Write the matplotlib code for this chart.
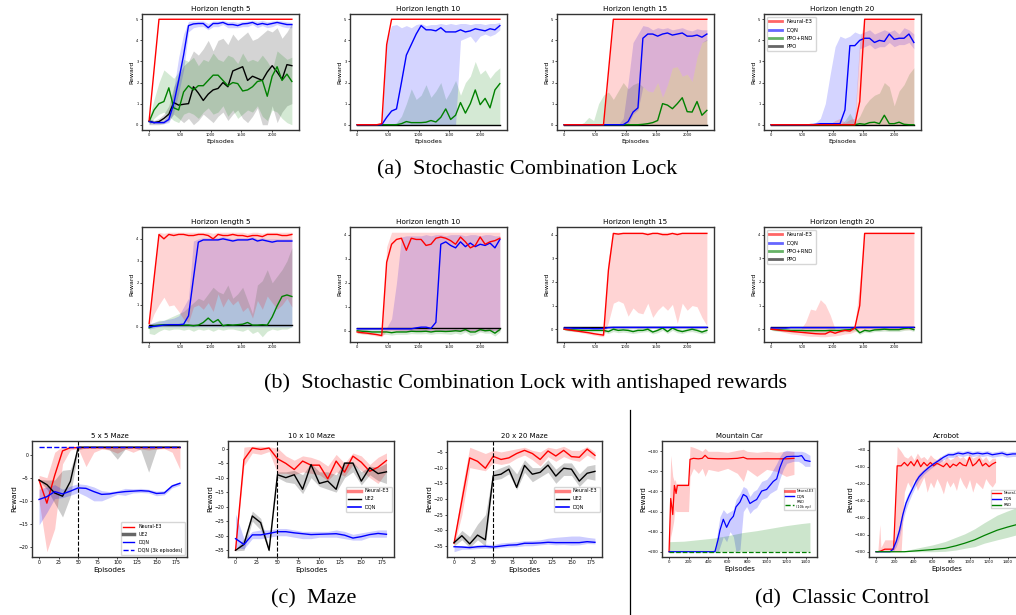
import matplotlib
matplotlib.use("Agg")
import matplotlib.pyplot as plt
from matplotlib.lines import Line2D

# ---------------- data ----------------
# combination lock: episodes sampled every 80
lock_ep = [0, 80, 160, 240, 320, 400, 480, 560, 640, 720, 800, 880, 960, 1040, 1120,
           1200, 1280, 1360, 1440, 1520, 1600, 1680, 1760, 1840, 1920, 2000, 2080, 2160, 2240, 2320]

# (a) horizon 5
h5_e3 = [0.2, 2.6] + [5.0] * 28
h5_dqn = [0.15, 0.1, 0.1, 0.1, 0.25, 1.0, 2.1, 3.3, 4.7, 4.78, 4.8, 4.8, 4.6, 4.8, 4.8,
          4.85, 4.75, 4.75, 4.7, 4.78, 4.8, 4.85, 4.75, 4.8, 4.75, 4.8, 4.85, 4.8, 4.75, 4.75]
h5_dqn_lo = [0.05, 0.05, 0.05, 0.05, 0.1, 0.6, 1.5, 2.6, 4.4, 4.6, 4.65, 4.65, 4.5, 4.65, 4.65,
             4.75, 4.6, 4.6, 4.6, 4.65, 4.65, 4.75, 4.6, 4.7, 4.6, 4.65, 4.75, 4.65, 4.6, 4.6]
h5_dqn_hi = [0.25, 0.2, 0.2, 0.2, 0.6, 1.7, 3.2, 4.3, 4.9, 4.92, 4.92, 4.92, 4.8, 4.92, 4.92,
             4.95, 4.88, 4.9, 4.85, 4.9, 4.92, 4.95, 4.9, 4.95, 4.88, 4.92, 4.95, 4.92, 4.88, 4.85]
h5_rnd = [0.15, 0.7, 1.0, 1.1, 1.75, 0.8, 0.7, 1.55, 1.85, 1.65, 1.85, 1.85, 2.1, 2.35, 2.35,
          2.1, 1.85, 2.0, 1.95, 1.6, 1.65, 1.8, 2.05, 2.1, 1.35, 2.3, 2.75, 2.1, 2.4, 2.05]
h5_rnd_lo = [0.0, 0.3, 0.5, 0.6, 0.4, 0.2, 0.1, 0.5, 0.6, 0.5, 0.3, 0.6, 0.8, 0.5, 0.6,
             0.9, 0.4, 0.7, 0.3, 0.5, 0.7, 0.6, 0.9, 0.4, 0.2, 0.7, 0.6, 0.3, 0.1, 0.0]
h5_rnd_hi = [0.3, 1.2, 2.0, 2.6, 2.4, 2.2, 2.5, 3.1, 3.0, 3.2, 2.8, 3.1, 3.0, 3.4, 3.1,
             3.0, 3.3, 3.2, 2.9, 3.4, 3.0, 3.1, 3.0, 3.3, 3.0, 2.6, 3.5, 3.3, 3.1, 3.2]
h5_ppo = [0.17, 0.1, 0.15, 0.3, 0.5, 1.05, 0.93, 0.97, 1.0, 1.8, 1.5, 1.15, 1.45, 1.65, 1.72,
          2.0, 1.8, 2.55, 2.65, 2.75, 2.1, 2.3, 2.2, 2.1, 2.5, 2.8, 2.5, 2.15, 2.85, 2.8]
h5_ppo_lo = [0.0, 0.0, 0.0, 0.05, 0.2, 0.5, 0.3, 0.1, 0.3, 0.0, 0.2, 0.5, 0.3, 0.1, 0.4,
             0.6, 0.2, 0.5, 0.7, 0.3, 0.1, 0.4, 0.8, 0.0, 0.0, 0.9, 0.1, 0.6, 0.9, 1.0]
h5_ppo_hi = [0.3, 0.2, 0.3, 0.5, 0.9, 1.8, 2.3, 2.8, 3.0, 3.5, 3.3, 3.6, 4.0, 3.5, 4.0,
             4.1, 3.8, 4.3, 4.0, 4.2, 4.4, 4.0, 4.1, 4.3, 4.5, 4.4, 4.6, 4.1, 4.4, 4.8]

# (a) horizon 10
h10_e3 = [0.0] * 5 + [0.05, 3.8] + [5.0] * 23
h10_dqn = [0.0] * 6 + [0.35, 0.65, 0.75, 2.0, 3.3, 3.8, 4.3, 4.7, 4.5, 4.5, 4.45, 4.6, 4.4, 4.4,
                       4.4, 4.5, 4.4, 4.45, 4.55, 4.5, 4.45, 4.55, 4.5, 4.7]
h10_dqn_lo = [0.0] * 21 + [4.0, 4.1, 4.2, 3.9, 4.2, 4.3, 4.2, 4.3, 4.5]
h10_dqn_hi = [0.0] * 6 + [4.0, 4.7, 4.75, 4.6, 4.7, 4.6, 4.75, 4.8, 4.7, 4.75, 4.75, 4.8, 4.75,
                          4.8, 4.75, 4.8, 4.8, 4.75, 4.8, 4.8, 4.75, 4.8, 4.8, 4.85]
h10_rnd = [0.0] * 9 + [0.05, 0.15, 0.1, 0.1, 0.1, 0.12, 0.2, 0.13, 0.35, 0.75, 0.25, 0.45,
                       1.05, 0.55, 1.0, 1.65, 0.95, 1.25, 0.8, 1.65, 1.95]
h10_rnd_lo = [0.0] * 30
h10_rnd_hi = [0.0] * 8 + [0.1, 0.4, 1.0, 1.7, 1.2, 1.4, 1.9, 1.3, 1.6, 2.0, 1.2, 1.6, 2.1, 1.4,
                          2.0, 2.3, 3.0, 2.4, 2.6, 2.2, 2.5, 2.7]
h10_ppo = [0.0] * 30

# (a) horizon 15
h15_e3 = [0.0] * 9 + [2.5] + [5.0] * 20
h15_e3_lo = [0.0] * 30
h15_e3_hi = [0.0] * 9 + [2.5] + [5.0] * 20
h15_dqn = [0.0] * 13 + [0.15, 0.6, 0.8, 4.1, 4.3, 4.3, 4.2, 4.3, 4.35, 4.25, 4.3, 4.35, 4.2,
                        4.2, 4.25, 4.15, 4.3]
h15_dqn_lo = [0.0] * 13 + [0.0, 0.5, 0.7, 1.8, 1.6, 1.55, 2.0, 1.3, 1.9, 2.7, 2.75, 2.3, 2.4,
                           2.05, 3.2, 3.9, 4.0]
h15_dqn_hi = [0.0] * 12 + [0.3, 2.0, 3.9, 4.3, 4.7, 4.65, 4.5, 4.6, 4.55, 4.6, 4.5, 4.55,
                           4.6, 4.5, 4.45, 4.55, 4.5, 4.5]
h15_rnd = [0.0] * 16 + [0.02, 0.05, 0.1, 0.2, 1.0, 0.93, 0.76, 1.0, 1.28, 0.62, 0.6, 1.1, 0.45, 0.68]
h15_rnd_lo = [0.0] * 30
h15_rnd_hi = [0.0, 0.0, 0.0, 0.0, 0.1, 0.35, 0.2, 1.0, 1.4, 1.55, 1.2, 1.6, 2.0, 1.7, 1.9,
              2.0, 1.8, 1.6, 1.55, 2.0, 1.3, 1.9, 2.7, 2.75, 2.3, 2.4, 2.05, 3.2, 3.9, 4.05]
h15_ppo = [0.0] * 30

# (a) horizon 20
h20_e3 = [0.0] * 18 + [1.1] + [5.0] * 11
h20_e3_lo = [0.0] * 30
h20_e3_hi = [0.0] * 8 + [0.1, 0.0, 0.0, 0.0, 0.05, 0.2, 0.3, 0.1, 0.25, 0.3, 4.0] + [5.0] * 11
h20_dqn = [0.0] * 9 + [0.02, 0.05, 0.05, 0.05, 0.05, 0.05, 0.7, 3.75, 3.75, 4.0, 4.1, 4.1, 3.9,
                       4.0, 3.95, 4.3, 4.05, 4.1, 4.1, 4.3, 3.9]
h20_dqn_lo = [0.0] * 18 + [3.6, 3.7, 3.8, 3.6, 3.7, 3.7, 3.9, 3.7, 3.8, 3.8, 3.9, 3.6]
h20_dqn_hi = [0.0] * 9 + [0.1, 0.3, 1.0, 2.4, 3.7, 4.2, 4.1, 4.2, 4.4, 4.3, 4.4, 4.5, 4.3, 4.4,
                          4.5, 4.4, 4.5, 4.3, 4.6, 4.5, 4.3]
h20_rnd = [0.0] * 18 + [0.05, 0.02, 0.1, 0.12, 0.05, 0.45, 0.05, 0.05, 0.12, 0.02, 0.0, 0.0]
h20_rnd_lo = [0.0] * 30
h20_rnd_hi = [0.0] * 15 + [0.2, 0.55, 0.1, 0.4, 0.9, 1.2, 1.4, 1.5, 2.0, 1.8, 0.9, 1.6, 1.9, 2.4, 2.7]
h20_ppo = [0.0] * 30

# (b) antishaped, horizon 5
s5_e3 = [0.15, 2.2, 4.2, 4.0, 4.2, 4.15, 4.2, 4.2, 4.15, 4.15, 4.2, 4.2, 4.15, 4.0, 4.2,
         4.15, 4.15, 4.2, 4.15, 4.15, 4.1, 4.15, 4.15, 4.1, 4.2, 4.2, 4.2, 4.15, 4.15, 4.2]
s5_e3_lo = [0.0, 0.6, 1.0, 1.35, 0.95, 1.0, 0.7, 0.35, 0.2, 0.9, 1.0, 0.8, 1.1, 0.7, 1.5,
            0.9, 1.3, 1.0, 1.2, 0.7, 0.9, 0.4, 1.2, 0.8, 1.4, 1.1, 0.8, 1.0, 1.3, 0.9]
s5_e3_hi = [0.3, 2.5, 4.3, 4.25, 4.3, 4.3, 4.3, 4.3, 4.3, 4.3, 4.3, 4.3, 4.3, 4.25, 4.3,
            4.3, 4.3, 4.3, 4.3, 4.3, 4.25, 4.3, 4.3, 4.25, 4.3, 4.3, 4.3, 4.3, 4.3, 4.3]
s5_dqn = [0.0, 0.02, 0.05, 0.08, 0.1, 0.1, 0.1, 0.12, 0.5, 2.2, 3.85, 3.95, 3.95, 3.95, 3.95,
          4.0, 3.95, 3.9, 3.95, 3.95, 3.95, 4.0, 3.9, 3.95, 3.9, 3.85, 3.9, 3.9, 3.9, 3.9]
s5_dqn_lo = [-0.1, -0.05] + [0.0] * 28
s5_dqn_hi = [0.15, 0.2, 0.25, 0.3, 0.35, 0.4, 0.5, 0.9, 1.3, 3.9, 4.0, 4.05, 4.05, 4.05, 4.05,
             4.1, 4.05, 4.0, 4.05, 4.05, 4.05, 4.1, 4.0, 4.05, 4.0, 4.0, 4.0, 4.0, 4.0, 4.0]
s5_rnd = [-0.05, 0.05, 0.08, 0.1, 0.1, 0.1, 0.1, 0.08, 0.08, 0.05, 0.08, 0.2, 0.4, 0.2, 0.33,
          0.05, 0.1, 0.08, 0.1, 0.12, 0.2, 0.08, 0.08, 0.1, 0.08, 0.45, 0.95, 1.38, 1.45, 1.38]
s5_rnd_lo = [-0.3, -0.35, -0.2, -0.1, -0.15, -0.1, -0.1, -0.15, -0.1, -0.2, -0.1, -0.15, -0.1,
             -0.2, -0.1, -0.15, -0.1, -0.1, -0.15, -0.2, -0.1, -0.3, -0.2, -0.45, -0.2, -0.1,
             -0.15, -0.1, -0.1, 0.0]
s5_rnd_hi = [0.1, 0.2, 0.3, 0.3, 0.4, 0.5, 0.6, 0.7, 0.9, 1.1, 1.3, 1.2, 1.5, 1.8, 1.6,
             1.5, 1.9, 1.3, 1.5, 1.8, 1.2, 0.6, 1.9, 2.1, 2.6, 2.0, 2.3, 2.6, 3.0, 3.6]
s5_ppo = [0.1] * 30

# (b) antishaped, horizon 10
s10_e3 = [-0.05, -0.08, -0.1, -0.13, -0.16, -0.2, 2.85, 3.6, 3.8, 3.85, 3.35, 3.85, 3.8, 3.8,
          3.55, 3.6, 3.85, 3.9, 3.85, 3.75, 3.6, 3.9, 3.7, 3.45, 3.55, 3.9, 3.6, 3.7, 3.75, 3.85]
s10_e3_lo = [-0.1, -0.13, -0.15, -0.18, -0.22, -0.25] + [0.0] * 24
s10_e3_hi = [0.0, -0.03, -0.05, -0.08, -0.1, -0.15, 3.5] + [4.1] * 23
s10_dqn = [0.08] * 12 + [0.12, 0.15, 0.15, 0.1, 0.35, 3.6, 3.7, 3.55, 3.45, 3.7, 3.5, 3.65, 3.5,
                         3.6, 3.55, 3.65, 3.45, 3.8]
s10_dqn_lo = [0.03] * 9 + [0.0] * 21
s10_dqn_hi = [0.13] * 7 + [0.5, 2.0, 3.9, 3.95, 3.95, 3.95, 3.95, 4.0, 3.95, 4.0, 4.0, 3.95, 4.0,
                           4.0, 4.0, 3.95, 4.0, 4.0, 3.95, 4.0, 4.0, 3.95, 3.95]
s10_rnd = [0.0, -0.02, -0.03, -0.05, -0.05, -0.05, -0.05, -0.08, -0.05, -0.05, -0.05, -0.02,
           -0.03, -0.03, -0.02, -0.05, -0.02, -0.02, -0.03, -0.02, 0.0, -0.02, 0.05, -0.05,
           -0.05, 0.05, 0.0, 0.02, -0.1, 0.05]
s10_rnd_lo = [-0.1, -0.12, -0.13, -0.15, -0.15, -0.15, -0.15, -0.18, -0.15, -0.15, -0.15, -0.12,
              -0.13, -0.13, -0.12, -0.15, -0.12, -0.12, -0.13, -0.15, -0.1, -0.15, -0.05, -0.2,
              -0.15, -0.05, -0.1, -0.1, -0.22, -0.05]
s10_rnd_hi = [0.05, 0.05, 0.05, 0.03, 0.03, 0.03, 0.03, 0.02, 0.03, 0.03, 0.03, 0.05, 0.05, 0.05,
              0.05, 0.03, 0.05, 0.05, 0.05, 0.05, 0.08, 0.05, 0.12, 0.05, 0.05, 0.12, 0.08, 0.1,
              0.02, 0.12]
s10_ppo = [0.1] * 30

# (b) antishaped, horizon 15
s15_e3 = [0.0, -0.03, -0.06, -0.09, -0.12, -0.15, -0.19, -0.22, -0.25, 2.5, 4.05, 4.02, 4.05,
          4.05, 4.05, 4.05, 4.05, 4.0, 4.05, 4.05, 4.0, 4.0, 4.05, 4.0, 4.05, 4.05, 4.05, 4.05,
          4.05, 4.05]
s15_e3_lo = [-0.02, -0.06, -0.1, -0.13, -0.17, -0.21, -0.25, -0.29, -0.32, 0.3, 1.1, 1.2, 1.1,
             0.55, 0.9, 0.7, 0.65, 1.1, 0.5, 0.8, 1.0, 0.8, 1.05, 0.25, 1.1, 0.8, 1.0, 0.95,
             0.5, 0.15]
s15_e3_hi = [0.02, 0.0, -0.02, -0.05, -0.08, -0.1, -0.13, -0.16, -0.15, 3.0] + [4.1] * 20
s15_dqn = [0.05, 0.05, 0.04, 0.04, 0.03, 0.03, 0.02, 0.02, 0.03, 0.07] + [0.08] * 20
s15_dqn_lo = [0.01] * 30
s15_dqn_hi = [0.1] * 30
s15_rnd = [0.0, -0.02, -0.03, -0.04, -0.05, -0.05, -0.05, -0.05, -0.05, -0.1, 0.0, -0.05, -0.03,
           -0.05, -0.1, -0.05, -0.05, 0.0, -0.12, -0.05, 0.05, -0.1, 0.05, -0.05, -0.1, -0.05,
           0.0, -0.05, -0.12, -0.05]
s15_rnd_lo = [-0.05, -0.08, -0.1, -0.1, -0.12, -0.12, -0.12, -0.12, -0.12, -0.18, -0.1, -0.15,
              -0.12, -0.15, -0.18, -0.15, -0.12, -0.1, -0.2, -0.15, -0.05, -0.18, -0.05, -0.15,
              -0.18, -0.12, -0.1, -0.15, -0.2, -0.15]
s15_rnd_hi = [0.05, 0.04, 0.03, 0.02, 0.02, 0.02, 0.02, 0.02, 0.02, 0.0, 0.08, 0.03, 0.05, 0.03,
              0.0, 0.04, 0.04, 0.08, -0.04, 0.04, 0.12, 0.0, 0.12, 0.04, 0.0, 0.04, 0.08, 0.04,
              -0.04, 0.04]
s15_ppo = [0.1] * 30

# (b) antishaped, horizon 20
s20_e3 = [0.0, -0.02, -0.05, -0.07, -0.09, -0.11, -0.13, -0.15, -0.17, -0.19, -0.2, -0.2, -0.1,
          -0.17, -0.1, -0.05, -0.08, 0.05, 1.0] + [4.05] * 11
s20_e3_lo = [-0.02, -0.05, -0.1, -0.15, -0.2, -0.22, -0.25, -0.28, -0.3, -0.3, -0.32, -0.32, -0.3,
             -0.28, -0.25, -0.2, -0.18, -0.1, -0.05] + [-0.02] * 11
s20_e3_hi = [0.02, 0.02, 0.0, 0.0, 0.0, 0.0, 0.0, 0.3, 0.85, 0.8, 1.25, 1.05, 0.6, 0.0, 0.0, 0.0,
             0.0, 0.15, 2.0] + [4.1] * 11
s20_dqn = [0.05] * 4 + [0.07] * 14 + [0.08] * 12
s20_dqn_lo = [0.01] * 30
s20_dqn_hi = [0.1] * 30
s20_rnd = [0.0, -0.02, -0.03, -0.04, -0.05, -0.05, -0.05, -0.06, -0.06, -0.06, -0.06, -0.06,
           -0.05, -0.05, -0.05, -0.03, -0.02, 0.05, -0.15, -0.05, -0.08, -0.03, -0.02, 0.0,
           -0.02, -0.02, -0.02, 0.03, 0.05, -0.02]
s20_rnd_lo = [-0.05, -0.08, -0.1, -0.1, -0.12, -0.12, -0.12, -0.13, -0.13, -0.13, -0.13, -0.13,
              -0.12, -0.12, -0.12, -0.1, -0.1, -0.05, -0.22, -0.12, -0.15, -0.1, -0.1, -0.08,
              -0.1, -0.1, -0.1, -0.05, -0.03, -0.1]
s20_rnd_hi = [0.04, 0.03, 0.02, 0.01, 0.0, 0.0, 0.0, 0.0, 0.0, 0.0, 0.0, 0.0, 0.0, 0.0, 0.0,
              0.02, 0.04, 0.1, -0.08, 0.02, 0.0, 0.04, 0.05, 0.08, 0.05, 0.05, 0.05, 0.1, 0.12, 0.05]
s20_ppo = [0.1] * 30

# (c) mazes
maze_ep = [0, 10, 20, 30, 40, 50, 60, 70, 80, 90, 100, 110, 120, 130, 140, 150, 160, 170, 180]
maze_switch = 50

m5_e3 = [-5.5, -10.5, -4.5, 0.8] + [1.5] * 15
m5_e3_lo = [-10, -21, -16, -2, 1.0, 1.3, -2.6, 0.5, 1.2, 1.0, 0.3, 1.2, 0.5, 1.2, 1.0, 1.2, 1.3, 0.5, -3.2]
m5_e3_hi = [-4.5, -5.0, 0.5] + [1.8] * 16
m5_ue2 = [-5.5, -6.5, -8.3, -9.0, -5.8] + [1.6] * 14
m5_ue2_lo = [-5.6, -7.5, -10.5, -13.5, -9.0, 1.0, 1.5, 1.5, 1.5, 1.0, -1.0, 1.2, 1.5, 1.0, -3.8,
             1.2, 1.5, 1.5, 1.5]
m5_ue2_hi = [-5.4, -5.5, -5.5, -3.4, -3.2] + [1.8] * 14
m5_dqn = [-9.7, -9.1, -8.0, -8.5, -7.9, -7.2, -7.3, -8.0, -8.6, -8.5, -8.2, -8.0, -7.9, -7.8,
          -7.9, -8.4, -8.3, -6.8, -6.2]
m5_dqn_lo = [-15.2, -12.5, -9.5, -9.3, -8.8, -8.2, -9.0, -10.0, -10.0, -9.3, -8.6, -8.8, -8.3,
             -8.2, -8.3, -8.9, -8.7, -7.2, -6.6]
m5_dqn_hi = [-7.5, -7.0, -6.5, -7.5, -6.8, -6.3, -6.5, -7.0, -7.8, -8.0, -7.8, -7.3, -7.4, -7.3,
             -7.5, -7.9, -7.8, -6.4, -5.9]
m5_dqn3k = [1.7] * 19

m10_e3 = [-35, -3.8, 0.2, -0.3, 0.2, -3.5, -5.1, -7.2, -4.3, -5.7, -5.7, -10.4, -4.3, -8.1, -2.6,
          -4.7, -7.8, -6.4, -4.1]
m10_e3_lo = [-35, -6, -1.5, -2, -1, -8.5, -8.5, -9, -8, -8.5, -9, -11, -8, -9.5, -5.5, -7.5, -10,
             -12, -8]
m10_e3_hi = [-35, 0.5, 0.8, 0.8, 0.6, 0.2, -2.5, -4.0, -2.5, -3.0, -4.0, -6.0, -2.0, -5.0, -1.5,
             -2.5, -5.5, -3.0, -1.5]
m10_ue2 = [-35, -33, -23.2, -25.5, -35, -9.0, -10.0, -9.0, -14.0, -5.5, -12.0, -11.2, -14.0, -5.0,
           -5.0, -11.2, -6.6, -8.6, -8.0]
m10_ue2_lo = [-35.2, -35, -25, -28, -35.5, -10, -11.5, -12, -15.5, -10, -13, -14, -15, -10, -8,
              -12.5, -9, -11, -12]
m10_ue2_hi = [-34.8, -31, -21.5, -24, -34, -8, -8, -7.5, -9, -5, -8, -8, -9, -4.5, -4.5, -8, -6,
              -6.5, -5]
m10_dqn = [-31, -33, -29.7, -29.7, -29.2, -28.6, -28.6, -29.0, -29.3, -29.6, -29.5, -29.4, -29.3,
           -29.8, -30.8, -30.3, -29.6, -29.2, -29.5]
m10_dqn_lo = [-34, -34.5, -31, -31, -30.5, -30, -30, -30.5, -31, -31, -30.5, -30.5, -30.5, -31,
              -31.5, -31.5, -30.5, -30.5, -30.5]
m10_dqn_hi = [-22.5, -31, -28.5, -28, -28, -27.5, -27.5, -28, -28.5, -28.5, -28.5, -28.5, -28,
              -28.5, -29.5, -29, -28.5, -28, -28]

m20_e3 = [-34.1, -20.5, -6.9, -8.0, -10.2, -6.4, -7.4, -6.9, -5.5, -4.5, -5.5, -7.4, -4.7, -6.3,
          -4.5, -6.5, -6.7, -4.1, -6.1]
m20_e3_lo = [-35, -25, -10, -10.5, -11, -8.5, -9, -8.5, -7, -6, -7.5, -9.5, -6.5, -8, -6.5, -7.5,
             -8, -6, -7.5]
m20_e3_hi = [-33, -17, -3.5, -4.5, -5.5, -4.5, -5.0, -4.5, -4, -3.5, -4.5, -5, -3.5, -4, -3.2,
             -4.5, -4.5, -3.3, -5]
m20_ue2 = [-33.9, -31.7, -34.3, -31.5, -33.0, -12.6, -12.1, -10.5, -16.3, -9.3, -12.1, -11.5, -9.2,
           -12.7, -10.2, -10.5, -14.3, -11.8, -11.2]
m20_ue2_lo = [-35, -33, -35.5, -33, -35, -14, -13.5, -12, -17, -11.5, -14.5, -13, -11.5, -15,
              -12.5, -12.5, -16, -13.5, -14]
m20_ue2_hi = [-33, -30, -32, -28, -25, -11, -10, -9, -12, -7.5, -10, -10, -7.5, -10.5, -8.5, -8.5,
              -12, -9.5, -9]
m20_dqn = [-35.2, -35.3, -35.5, -35.2, -35.1, -35.3, -35.0, -34.7, -34.6, -34.1, -34.1, -34.0,
           -33.8, -33.9, -33.9, -33.9, -33.9, -33.6, -33.8]
m20_dqn_lo = [-36.8, -36, -36, -35.8, -35.7, -35.8, -35.5, -35.3, -35.2, -34.9, -34.9, -34.6,
              -34.4, -34.6, -34.5, -34.7, -34.6, -34.2, -34.3]
m20_dqn_hi = [-35, -34.8, -34.9, -34.6, -34.4, -34.5, -34, -33.8, -33.6, -33.3, -33.2, -33.0,
              -32.5, -32.2, -32.0, -31.8, -31.8, -32.2, -32.5]

# (d) mountain car
mc_e3_x = [0, 8, 17, 28, 38, 47, 55, 64, 72, 85, 200, 215, 250, 300, 340, 369, 400, 500, 600,
           700, 761, 800, 900, 1000, 1100, 1200, 1280]
mc_e3 = [-200, -175, -147, -155, -163, -148, -134, -138, -142, -134, -134, -108, -107, -107.5,
         -107, -104, -107, -107.5, -107.5, -107, -106, -107.5, -107.5, -107.5, -107.5, -107.5, -107]
mc_e3_hi = [-200, -140, -104, -115, -125, -128, -130, -128, -132, -132, -132, -95, -96, -98, -100,
            -97, -100, -100, -101, -99, -98, -100, -101, -100, -101, -100, -100]
mc_e3_lo = [-200, -200, -185, -180, -175, -170, -162, -158, -160, -160, -160, -125, -117, -122,
            -117, -125, -118, -120, -117, -122, -130, -118, -125, -118, -120, -125, -123]
mc_dqn_x = [0, 100, 200, 300, 400, 470, 505, 522, 556, 590, 625, 659, 686, 727, 761, 795, 829,
            864, 898, 949, 1000, 1034, 1068, 1103, 1137, 1171, 1205, 1273, 1325, 1359, 1393, 1444]
mc_dqn = [-200, -200, -200, -200, -200, -200, -187, -178.5, -167.7, -175.7, -168.6, -164.7, -155.4,
          -150.5, -143, -145, -152, -149.8, -148, -139.6, -138, -134, -130, -127.5, -116, -107.6,
          -105.3, -105, -105, -104.3, -109, -110]
mc_dqn_hi = [-200, -200, -200, -200, -200, -198, -175, -165, -158, -162, -160, -158, -148, -142,
             -135, -137, -145, -140, -138, -130, -128, -124, -118, -112, -105, -100, -99, -100,
             -100, -100, -101, -104]
mc_dqn_lo = [-200, -200, -200, -200, -200, -200, -200, -195, -185, -190, -180, -185, -200, -198,
             -160, -155, -162, -158, -156, -148, -146, -142, -140, -138, -127, -118, -112, -110,
             -110, -112, -115, -115]
mc_rnd_x = [0, 150, 300, 450, 600, 750, 900, 1050, 1200, 1350, 1444]
mc_rnd = [-200, -200, -200, -200, -200, -200, -200, -200, -200, -200, -200]
mc_rnd_hi = [-190, -189.5, -188, -186.5, -184, -181, -179, -176.5, -174, -172, -171]

# (d) acrobot
ac_e3_x = [0, 20, 40, 52, 94, 187, 225, 267, 301, 336, 371, 405, 440, 475, 509, 544, 579, 613,
           648, 683, 717, 752, 787, 821, 856, 891, 925, 960, 995, 1029, 1064, 1099, 1133, 1168,
           1203, 1237, 1272]
ac_e3 = [-200, -200, -199.5, -199, -197, -197, -99, -99, -95, -99, -94, -99, -92, -100, -95, -99,
         -95, -99, -96, -98, -100, -96, -101, -97, -99, -95, -98, -99, -89, -99, -96, -91, -99,
         -96, -100, -97, -95]
ac_e3_hi = [-200, -198, -168, -195, -186, -186, -76, -82, -88, -90, -86, -92, -84, -90, -88, -92,
            -86, -90, -92, -88, -94, -88, -92, -90, -86, -90, -88, -92, -84, -90, -88, -86, -92,
            -88, -94, -90, -90]
ac_e3_lo = [-200, -200, -200, -200, -200, -200, -200, -200, -130, -118, -125, -115, -128, -120,
            -112, -130, -118, -125, -114, -122, -132, -116, -124, -118, -128, -112, -120, -126,
            -115, -130, -118, -122, -126, -114, -120, -124, -118]
ac_dqn_x = [0, 150, 180, 215, 250, 284, 319, 353, 388, 423, 457, 509, 561, 613, 665, 717, 769,
            821, 873, 925, 977, 1029, 1081, 1133, 1185, 1237, 1289, 1341, 1393, 1455, 1500]
ac_dqn = [-200, -200, -197, -188, -175, -157, -143, -134, -126, -118, -112, -106, -101, -96.7, -93,
          -89, -86, -86, -84, -85, -83.5, -85, -84, -85, -84, -86, -85, -84, -86, -85, -85]
ac_dqn_hi = [-200, -199, -194, -182, -168, -150, -137, -129, -121, -114, -108, -103, -98, -94, -90,
             -86, -83, -83, -81, -82, -80.5, -82, -81, -82, -81, -83, -82, -81, -83, -82, -82]
ac_dqn_lo = [-200, -200, -200, -194, -182, -164, -150, -140, -131, -123, -116, -109, -104, -99.5,
             -96, -92, -89, -89, -87, -88, -86.5, -88, -87, -88, -87, -89, -88, -87, -89, -88, -88]
ac_rnd_x = [0, 300, 423, 600, 735, 850, 943, 1050, 1150, 1289, 1400, 1500]
ac_rnd = [-200, -200, -199, -197.5, -196, -193, -190, -186, -181, -174.7, -171, -168]
ac_rnd_hi = [-200, -199, -196, -192, -188, -183, -179, -173, -166, -157, -152, -148]
ac_rnd_lo = [-200, -200, -200, -200, -199.5, -198, -196, -194, -190, -186, -183, -180]

# ---------------- figure ----------------
W, H = 1016, 615
fig = plt.figure(figsize=(W / 100, H / 100), dpi=100)
serif = 'Liberation Serif'


def box(left, top, w, h):
    return fig.add_axes([left / W, 1 - (top + h) / H, w / W, h / H])


def dress(ax, title, tick_fs, lab_fs, title_fs, xlabel=True):
    ax.set_title(title, fontsize=title_fs, pad=2)
    ax.set_ylabel('Reward', fontsize=lab_fs, labelpad=1)
    if xlabel:
        ax.set_xlabel('Episodes', fontsize=lab_fs, labelpad=1)
    ax.tick_params(labelsize=tick_fs, length=1.5, width=0.5, pad=1)
    for s in ax.spines.values():
        s.set_linewidth(1.0)
        s.set_color('#333333')


def lock_panel(ax, rows, alpha=0.17):
    # rows: (mean, lo, hi, colour), drawn black, green, blue, red
    for y, lo, hi, c in rows:
        if lo is not None:
            ax.fill_between(lock_ep, lo, hi, color=c, alpha=alpha, lw=0)
    for y, lo, hi, c in rows:
        ax.plot(lock_ep, y, color=c, lw=1.0)


lock_handles = [Line2D([], [], color=c, lw=2, alpha=0.6) for c in ['red', 'blue', 'green', 'black']]
lock_labels = ['Neural-E3', 'DQN', 'PPO+RND', 'PPO']

lefts = [142, 350, 557, 764]

# row (a)
a_rows = [
    [(h5_ppo, h5_ppo_lo, h5_ppo_hi, 'black'), (h5_rnd, h5_rnd_lo, h5_rnd_hi, 'green'),
     (h5_dqn, h5_dqn_lo, h5_dqn_hi, 'blue'), (h5_e3, None, None, 'red')],
    [(h10_ppo, None, None, 'black'), (h10_rnd, h10_rnd_lo, h10_rnd_hi, 'green'),
     (h10_dqn, h10_dqn_lo, h10_dqn_hi, 'blue'), (h10_e3, None, None, 'red')],
    [(h15_ppo, None, None, 'black'), (h15_rnd, h15_rnd_lo, h15_rnd_hi, 'green'),
     (h15_dqn, h15_dqn_lo, h15_dqn_hi, 'blue'), (h15_e3, h15_e3_lo, h15_e3_hi, 'red')],
    [(h20_ppo, None, None, 'black'), (h20_rnd, h20_rnd_lo, h20_rnd_hi, 'green'),
     (h20_dqn, h20_dqn_lo, h20_dqn_hi, 'blue'), (h20_e3, h20_e3_lo, h20_e3_hi, 'red')],
]
b_rows = [
    [(s5_ppo, None, None, 'black'), (s5_rnd, s5_rnd_lo, s5_rnd_hi, 'green'),
     (s5_dqn, s5_dqn_lo, s5_dqn_hi, 'blue'), (s5_e3, s5_e3_lo, s5_e3_hi, 'red')],
    [(s10_ppo, None, None, 'black'), (s10_rnd, s10_rnd_lo, s10_rnd_hi, 'green'),
     (s10_dqn, s10_dqn_lo, s10_dqn_hi, 'blue'), (s10_e3, s10_e3_lo, s10_e3_hi, 'red')],
    [(s15_ppo, None, None, 'black'), (s15_rnd, s15_rnd_lo, s15_rnd_hi, 'green'),
     (s15_dqn, s15_dqn_lo, s15_dqn_hi, 'blue'), (s15_e3, s15_e3_lo, s15_e3_hi, 'red')],
    [(s20_ppo, None, None, 'black'), (s20_rnd, s20_rnd_lo, s20_rnd_hi, 'green'),
     (s20_dqn, s20_dqn_lo, s20_dqn_hi, 'blue'), (s20_e3, s20_e3_lo, s20_e3_hi, 'red')],
]
horizons = [5, 10, 15, 20]

for i in range(4):
    ax = box(lefts[i], 14, 157, 116)
    lock_panel(ax, a_rows[i])
    dress(ax, f'Horizon length {horizons[i]}', 2.6, 4.5, 5.2)
    if i == 3:
        ax.legend(lock_handles, lock_labels, loc='upper left', fontsize=3.8,
                  handlelength=2.5, borderpad=0.5, labelspacing=0.6)

for i in range(4):
    ax = box(lefts[i], 227, 157, 115)
    lock_panel(ax, b_rows[i])
    dress(ax, f'Horizon length {horizons[i]}', 2.6, 4.5, 5.2, xlabel=False)
    if i == 3:
        ax.legend(lock_handles, lock_labels, loc='upper left', fontsize=3.8,
                  handlelength=2.5, borderpad=0.5, labelspacing=0.6)

# row (c): mazes
maze_specs = [
    ('5 x 5 Maze', 32, 155, m5_e3, m5_e3_lo, m5_e3_hi, m5_ue2, m5_ue2_lo, m5_ue2_hi,
     m5_dqn, m5_dqn_lo, m5_dqn_hi),
    ('10 x 10 Maze', 228, 166, m10_e3, m10_e3_lo, m10_e3_hi, m10_ue2, m10_ue2_lo, m10_ue2_hi,
     m10_dqn, m10_dqn_lo, m10_dqn_hi),
    ('20 x 20 Maze', 447, 155, m20_e3, m20_e3_lo, m20_e3_hi, m20_ue2, m20_ue2_lo, m20_ue2_hi,
     m20_dqn, m20_dqn_lo, m20_dqn_hi),
]
for k, (title, left, w, e3, e3lo, e3hi, ue, uelo, uehi, dq, dqlo, dqhi) in enumerate(maze_specs):
    ax = box(left, 441, w, 116)
    ax.fill_between(maze_ep, e3lo, e3hi, color='red', alpha=0.2, lw=0)
    ax.fill_between(maze_ep, uelo, uehi, color='black', alpha=0.2, lw=0)
    ax.fill_between(maze_ep, dqlo, dqhi, color='blue', alpha=0.2, lw=0)
    ax.plot(maze_ep, e3, color='red', lw=1.0)
    ax.plot(maze_ep, ue, color='black', lw=1.0)
    ax.plot(maze_ep, dq, color='blue', lw=1.0)
    ax.axvline(maze_switch, color='black', ls='--', lw=0.8)
    dress(ax, title, 3.3, 5.2, 5.0)
    if k == 0:
        ax.plot(maze_ep, m5_dqn3k, color='blue', ls='--', lw=1.0)
        hs = [Line2D([], [], color='red', lw=1.0),
              Line2D([], [], color='black', lw=2.5, alpha=0.6),
              Line2D([], [], color='blue', lw=1.0),
              Line2D([], [], color='blue', lw=1.0, ls='--')]
        ax.legend(hs, ['Neural-E3', 'UE2', 'DQN', 'DQN (3k episodes)'], loc='lower right',
                  fontsize=3.4, handlelength=2.5, labelspacing=0.6)
    else:
        hs = [Line2D([], [], color='red', lw=2.5, alpha=0.5),
              Line2D([], [], color='black', lw=1.0),
              Line2D([], [], color='blue', lw=1.2)]
        ax.legend(hs, ['Neural-E3', 'UE2', 'DQN'], loc='center right',
                  fontsize=3.6, handlelength=2.5, labelspacing=0.6)

# row (d): classic control
ax = box(662, 441, 155, 116)
ax.fill_between(mc_e3_x, mc_e3_lo, mc_e3_hi, color='red', alpha=0.2, lw=0)
ax.fill_between(mc_dqn_x, mc_dqn_lo, mc_dqn_hi, color='blue', alpha=0.2, lw=0)
ax.fill_between(mc_rnd_x, mc_rnd, mc_rnd_hi, color='green', alpha=0.2, lw=0)
ax.plot(mc_e3_x, mc_e3, color='red', lw=0.9)
ax.plot(mc_dqn_x, mc_dqn, color='blue', lw=0.9)
ax.plot(mc_rnd_x, mc_rnd, color='green', lw=0.9, ls='--')
dress(ax, 'Mountain Car', 2.8, 5.0, 5.0)
hs = [Line2D([], [], color='red', lw=2, alpha=0.6),
      Line2D([], [], color='blue', lw=1.0),
      Line2D([], [], color='green', lw=1.0, ls='--')]
ax.legend(hs, ['Neural-E3', 'DQN', 'RND\n(10k ep)'], loc='center right', fontsize=2.5,
          handlelength=2.5, labelspacing=0.5)

ax = box(869, 441, 155, 116)
ax.fill_between(ac_e3_x, ac_e3_lo, ac_e3_hi, color='red', alpha=0.2, lw=0)
ax.fill_between(ac_dqn_x, ac_dqn_lo, ac_dqn_hi, color='blue', alpha=0.2, lw=0)
ax.fill_between(ac_rnd_x, ac_rnd_lo, ac_rnd_hi, color='green', alpha=0.2, lw=0)
ax.plot(ac_e3_x, ac_e3, color='red', lw=0.9)
ax.plot(ac_dqn_x, ac_dqn, color='blue', lw=0.9)
ax.plot(ac_rnd_x, ac_rnd, color='green', lw=0.9)
dress(ax, 'Acrobot', 2.8, 5.0, 5.0)
hs = [Line2D([], [], color='red', lw=1.0),
      Line2D([], [], color='blue', lw=1.0),
      Line2D([], [], color='green', lw=1.0)]
ax.legend(hs, ['Neural-E3', 'DQN', 'RND'], loc='center right', fontsize=2.5,
          handlelength=2.5, labelspacing=0.5)

# captions and separator
fig.text(527 / W, 1 - 170 / H, '(a)  Stochastic Combination Lock', family=serif,
         fontsize=16, ha='center', va='center')
fig.text(525 / W, 1 - 383 / H, '(b)  Stochastic Combination Lock with antishaped rewards',
         family=serif, fontsize=16, ha='center', va='center')
fig.text(314 / W, 1 - 599 / H, '(c)  Maze', family=serif, fontsize=16, ha='center', va='center')
fig.text(842 / W, 1 - 599 / H, '(d)  Classic Control', family=serif, fontsize=16,
         ha='center', va='center')
fig.add_artist(Line2D([630 / W, 630 / W], [0, 1 - 410 / H], transform=fig.transFigure,
                      color='black', lw=0.9))

fig.savefig('out.png', dpi=100)
